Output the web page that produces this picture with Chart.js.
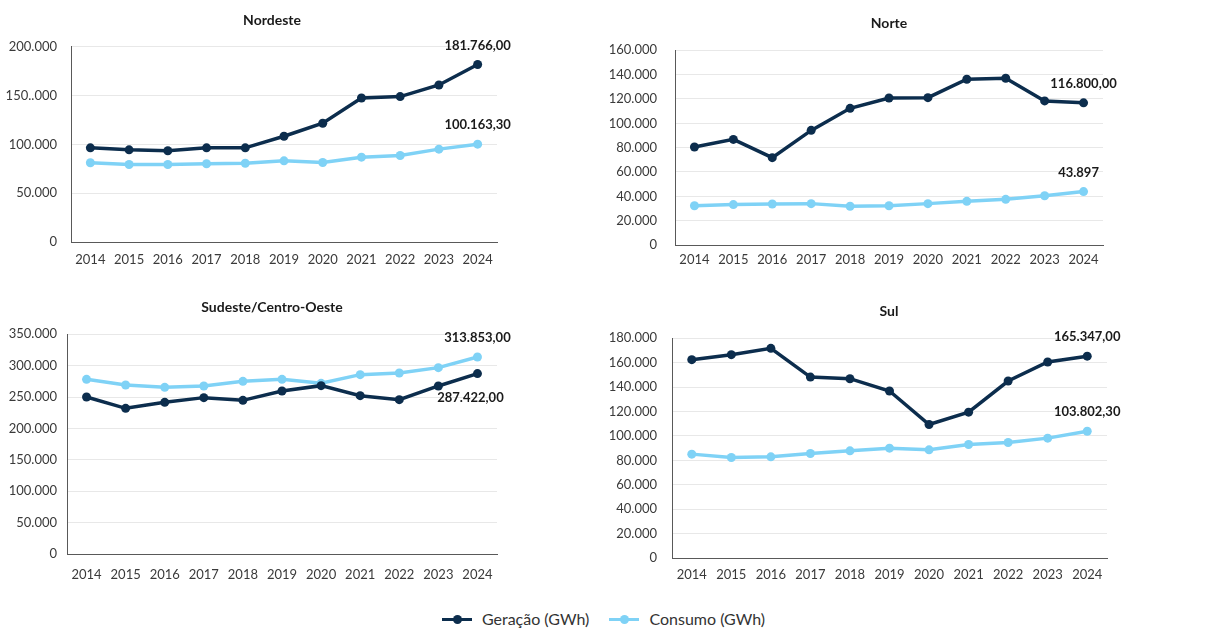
<!DOCTYPE html>
<html>
<head>
<meta charset="utf-8">
<script src="https://cdn.jsdelivr.net/npm/chart.js@4"></script>
<style>
  body { margin: 0; background: #fff; font-family: Lato, sans-serif; }
  #wrap { position: relative; width: 1207px; height: 628px; overflow: hidden; }
  .box { position: absolute; }
  #legend { position: absolute; left: 0; top: 609px; width: 1207px; height: 20px; line-height: 20px; text-align: center; font-size: 16px; color: #333; }
  .item { display: inline-flex; align-items: center; margin: 0 8px; height: 20px; vertical-align: top; }
  .swatch { position: relative; width: 30px; height: 3px; margin-right: 10px; }
  .swatch i { position: absolute; left: 11px; top: -3px; width: 9px; height: 9px; border-radius: 50%; }
</style>
</head>
<body>
<div id="wrap">
  <div class="box" style="left:0;top:0;width:560px;height:272px"><canvas id="c1"></canvas></div>
  <div class="box" style="left:600px;top:0;width:607px;height:275px"><canvas id="c2"></canvas></div>
  <div class="box" style="left:0;top:290px;width:560px;height:294px"><canvas id="c3"></canvas></div>
  <div class="box" style="left:600px;top:290px;width:607px;height:298px"><canvas id="c4"></canvas></div>
  <div id="legend">
    <span class="item"><span class="swatch" style="background:#0c2d4d"><i style="background:#0c2d4d"></i></span>Geração (GWh)</span>
    <span class="item"><span class="swatch" style="background:#7fd2f6"><i style="background:#7fd2f6"></i></span>Consumo (GWh)</span>
  </div>
</div>
<script>
const anos = ["2014", "2015", "2016", "2017", "2018", "2019", "2020", "2021", "2022", "2023", "2024"];

const nordesteGeracao = [96400, 94400, 93400, 96400, 96400, 108300, 121600, 147500, 148900, 160800, 181766];
const nordesteConsumo = [81100, 79400, 79400, 80100, 80700, 83100, 81400, 86900, 88600, 95100, 100163.3];
const nordesteTicks = ["0", "50.000", "100.000", "150..000", "200.000"];

const norteGeracao = [80500, 86800, 71800, 94200, 112300, 120800, 121100, 136200, 137000, 118400, 116800];
const norteConsumo = [32300, 33200, 33700, 34000, 31800, 32300, 34000, 35900, 37500, 40500, 43897];
const norteTicks = ["0", "20.000", "40.000", "60.000", "80.000", "100.000", "120.000", "140.000", "160.000"];

const sudesteGeracao = [250100, 232100, 241600, 249100, 244800, 259700, 268200, 252200, 245900, 267700, 287422];
const sudesteConsumo = [278300, 269300, 265500, 267700, 275100, 278300, 271900, 285700, 288400, 296900, 313853];
const sudesteTicks = ["0", "50.000", "100.000", "150.000", "200.000", "250.000", "300.000", "350.000"];

const sulGeracao = [162500, 166600, 171800, 148200, 146900, 136800, 109400, 119500, 145000, 160600, 165347];
const sulConsumo = [85100, 82300, 82900, 85600, 87800, 90000, 88600, 93000, 94600, 98200, 103802.3];
const sulTicks = ["0", "20.000", "40.000", "60.000", "80.000", "100.000", "120.000", "140.000", "160.000", "180.000"];

const COR_GER = "#0c2d4d";
const COR_CON = "#7fd2f6";
const FONTE = "Lato, sans-serif";

// rótulo do último ponto de cada série
const lastLabelPlugin = {
  id: "lastLabel",
  afterLayout(chart) {
    // centraliza o título no x pedido
    const t = chart.titleBlock;
    const cx = chart.options.titleCenter;
    if (t && cx !== undefined) {
      const half = (t.right - t.left) / 2;
      t.left = cx - half;
      t.right = cx + half;
    }
  },
  afterDatasetsDraw(chart) {
    const ctx = chart.ctx;
    ctx.save();
    ctx.font = "bold 13px " + FONTE;
    ctx.fillStyle = "#1a1a1a";
    ctx.textAlign = "center";
    ctx.textBaseline = "middle";
    chart.data.datasets.forEach((ds, i) => {
      const pts = chart.getDatasetMeta(i).data;
      const p = pts[pts.length - 1];
      const lab = ds.lastLabel;
      ctx.fillText(lab.text, p.x + (lab.dx || 0), p.y + lab.dy);
    });
    ctx.restore();
  }
};

function makeChart(id, cfg) {
  const ctx = document.getElementById(id).getContext("2d");
  return new Chart(ctx, {
    type: "line",
    data: {
      labels: anos,
      datasets: [
        {
          label: "Geração (GWh)",
          data: cfg.ger,
          borderColor: COR_GER,
          backgroundColor: COR_GER,
          borderWidth: 3.5,
          pointRadius: 4.5,
          pointBorderWidth: 0,
          fill: false,
          lastLabel: cfg.gerLabel,
        },
        {
          label: "Consumo (GWh)",
          data: cfg.con,
          borderColor: COR_CON,
          backgroundColor: COR_CON,
          borderWidth: 3.5,
          pointRadius: 4.5,
          pointBorderWidth: 0,
          fill: false,
          lastLabel: cfg.conLabel,
        },
      ],
    },
    options: {
      responsive: true,
      maintainAspectRatio: false,
      animation: false,
      titleCenter: cfg.titleCenter,
      layout: { padding: { left: 0, right: cfg.width - cfg.plotRight, top: 0, bottom: 0 } },
      plugins: {
        legend: { display: false },
        tooltip: { enabled: false },
        title: {
          display: true,
          text: cfg.title,
          color: "#1a1a1a",
          font: { family: FONTE, size: 14, weight: "bold" },
          padding: { top: cfg.titleTop, bottom: cfg.titleBottom },
        },
      },
      scales: {
        x: {
          offset: true,
          grid: { display: false, drawTicks: false },
          border: { color: "#595959", width: 1 },
          ticks: { color: "#3a3a3a", font: { family: FONTE, size: 13 }, padding: cfg.xPad, maxRotation: 0 },
          afterFit(scale) { scale.height = 30; },
        },
        y: {
          min: 0,
          max: cfg.max,
          grid: { color: "#e8e8e8", drawTicks: false },
          border: { color: "#595959", width: 1 },
          ticks: {
            stepSize: cfg.step,
            color: "#3a3a3a",
            font: { family: FONTE, size: 13 },
            padding: cfg.yPad,
            callback: (v, i) => cfg.ticks[i],
          },
          afterFit(scale) { scale.width = cfg.plotLeft; },
        },
      },
    },
    plugins: [lastLabelPlugin],
  });
}

makeChart("c1", {
  title: "Nordeste", ger: nordesteGeracao, con: nordesteConsumo, ticks: nordesteTicks,
  max: 200000, step: 50000, yPad: 14, xPad: 10, titleTop: 11.6, titleBottom: 18.3,
  width: 560, plotLeft: 71, plotRight: 497, titleCenter: 272,
  gerLabel: { text: "181.766,00", dy: -19 }, conLabel: { text: "100.163,30", dy: -19 },
});

makeChart("c2", {
  title: "Norte", ger: norteGeracao, con: norteConsumo, ticks: norteTicks,
  max: 160000, step: 20000, yPad: 18, xPad: 7.2, titleTop: 14.6, titleBottom: 18.9,
  width: 607, plotLeft: 75, plotRight: 503, titleCenter: 289,
  gerLabel: { text: "116.800,00", dy: -19 }, conLabel: { text: "43.897", dx: -5, dy: -19 },
});

makeChart("c3", {
  title: "Sudeste/Centro-Oeste", ger: sudesteGeracao, con: sudesteConsumo, ticks: sudesteTicks,
  max: 350000, step: 50000, yPad: 10, xPad: 13.2, titleTop: 8.6, titleBottom: 18.9,
  width: 560, plotLeft: 67, plotRight: 497, titleCenter: 272,
  gerLabel: { text: "287.422,00", dx: -7, dy: 24 }, conLabel: { text: "313.853,00", dy: -19 },
});

makeChart("c4", {
  title: "Sul", ger: sulGeracao, con: sulConsumo, ticks: sulTicks,
  max: 180000, step: 20000, yPad: 15, xPad: 9.5, titleTop: 12.6, titleBottom: 18.9,
  width: 607, plotLeft: 72, plotRight: 507, titleCenter: 289,
  gerLabel: { text: "165.347,00", dy: -19 }, conLabel: { text: "103.802,30", dy: -19 },
});
</script>
</body>
</html>
